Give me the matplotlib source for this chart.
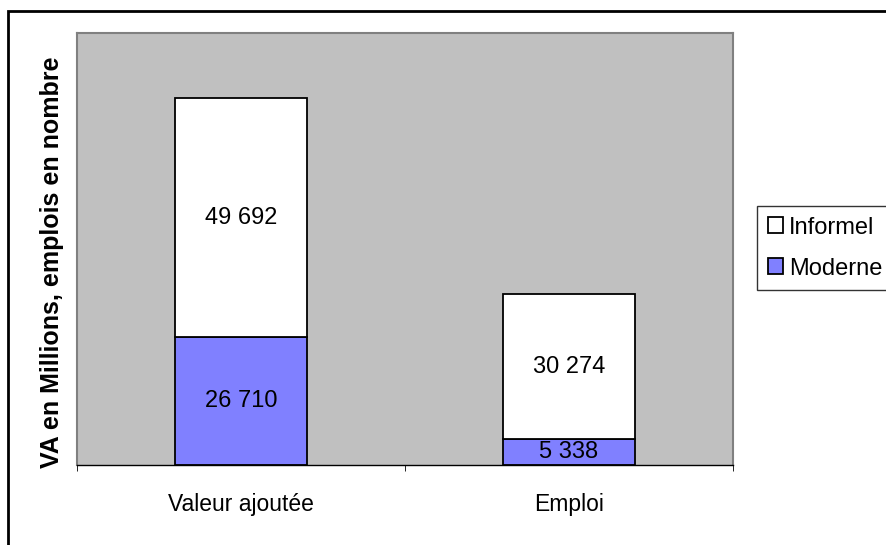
import matplotlib.pyplot as plt
from matplotlib.patches import Rectangle

plt.rcParams['font.family'] = ['Liberation Sans', 'DejaVu Sans']

categories = ['Valeur ajoutée', 'Emploi']
moderne = [26710, 5338]
informel = [49692, 30274]
series_names = ['Informel', 'Moderne']

def fmt(v):
    return f"{v:,}".replace(",", " ")

fig = plt.figure(figsize=(8.87, 5.45), dpi=100)
ax = fig.add_axes([77/887, 1-465/545, 656/887, 432/545])
ax.set_facecolor('#C0C0C0')

x = list(range(len(categories)))
b_mod = ax.bar(x, moderne, width=0.4, color='#8080FF', edgecolor='black', linewidth=1.3, label='Moderne')
b_inf = ax.bar(x, informel, width=0.4, bottom=moderne, color='white', edgecolor='black', linewidth=1.3, label='Informel')

for i in x:
    ax.text(i, moderne[i] / 2, fmt(moderne[i]), ha='center', va='center', fontsize=17)
    ax.text(i, moderne[i] + informel[i] / 2, fmt(informel[i]), ha='center', va='center', fontsize=17)

ax.set_xlim(-0.5, 1.5)
ax.set_ylim(0, 90000)
ax.set_yticks([])
ax.set_xticks(x)
ax.set_xticklabels(categories, fontsize=16.5)
ax.tick_params(axis='x', which='major', length=0, pad=20)
ax.set_xticks([-0.5, 0.5, 1.5], minor=True)
ax.tick_params(axis='x', which='minor', length=4, direction='out', color='black')

for s in ['left', 'top', 'right']:
    ax.spines[s].set_color('#808080')
    ax.spines[s].set_linewidth(1.5)
ax.spines['bottom'].set_color('black')
ax.spines['bottom'].set_linewidth(1)

fig.text(52/887, 1-262/545, 'VA en Millions, emplois en nombre', rotation=90,
         ha='center', va='center', fontsize=18, fontweight='bold')

leg = fig.legend([b_inf, b_mod], series_names, loc='upper left',
                 bbox_to_anchor=(757/887, 1-206/545), borderaxespad=0,
                 fontsize=17, frameon=True, fancybox=False, edgecolor='black',
                 handlelength=0.65, handleheight=0.65, handletextpad=0.25,
                 labelspacing=0.8, borderpad=0.45)
leg.get_frame().set_linewidth(1)

fig.patches.append(Rectangle((8/887, -0.1), 1.5, 1 - 11/545 + 0.1, transform=fig.transFigure,
                             fill=False, edgecolor='black', linewidth=2))

fig.savefig('out.png', dpi=100)
